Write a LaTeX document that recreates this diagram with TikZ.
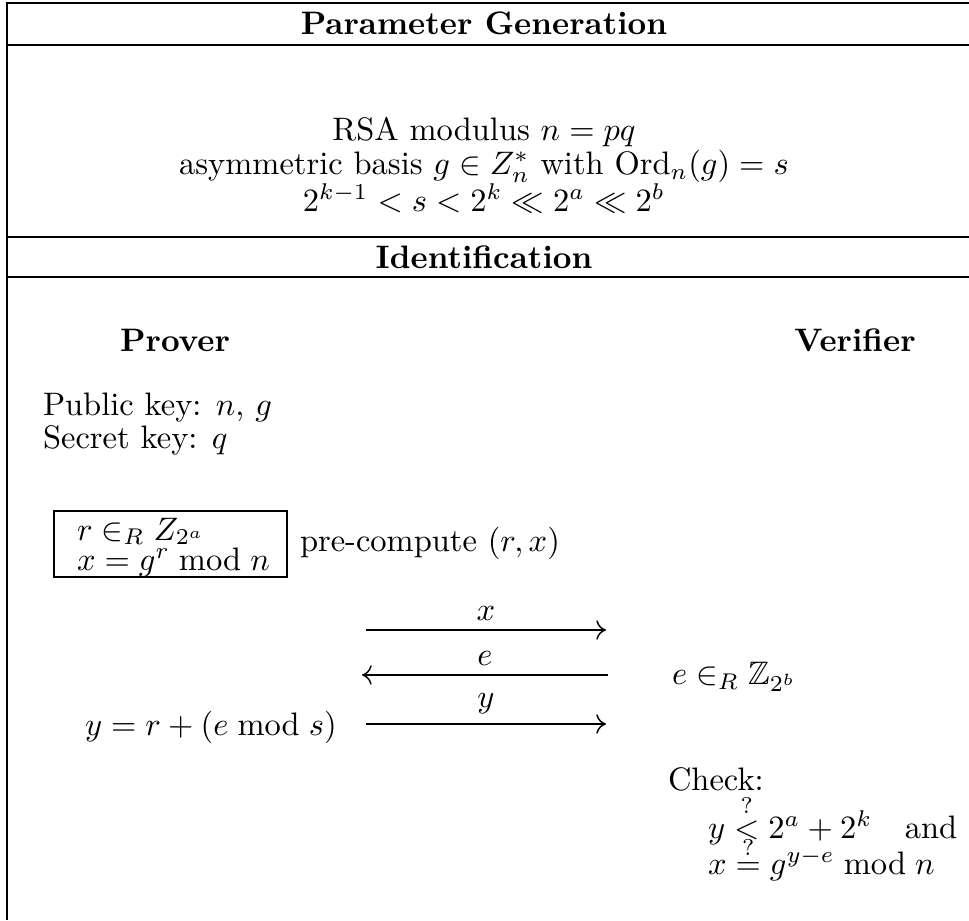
\documentclass[tikz,border=0pt]{standalone}
\usepackage{amsmath,amssymb}
\usetikzlibrary{arrows.meta}
\begin{document}
\begin{tikzpicture}[x=0.3077pt,y=-0.3077pt,
  txt/.style={inner sep=0pt,outer sep=0pt},
  hdr/.style={txt,font=\bfseries},
  rule/.style={line width=0.9pt},
  thinrule/.style={line width=0.5pt},
  msg/.style={line width=0.45pt,-{To[length=3pt,width=6pt]}},
  lbl/.style={txt,above=3pt,midway}]
\useasboundingbox (0,0) rectangle (969,920);
% frame
\draw[rule] (7,2) -- (7,920);
\draw[thinrule] (7,3) -- (969,3);
\draw[rule] (7,45) -- (969,45);
\draw[thinrule] (7,237) -- (969,237);
\draw[rule] (7,277) -- (969,277);
% headers
\node[hdr] (hpg) at (484,23) {Parameter Generation};
\node[hdr] (hid) at (484,257) {Identification};
% parameters
\node[txt] (rsa) at (484,132) {RSA modulus $n=pq$};
\node[txt] (basis) at (484,166) {asymmetric basis $g\in Z_n^*$ with $\mathrm{Ord}_n(g)=s$};
\node[txt] (ineq) at (484,198) {$2^{k-1}<s<2^k\ll 2^a\ll 2^b$};
% parties
\node[hdr] (prover) at (175,340) {Prover};
\node[hdr] (verifier) at (855,340) {Verifier};
\node[txt,anchor=west] (pub) at (43,408) {Public key: $n$, $g$};
\node[txt,anchor=west] (sec) at (43,440) {Secret key: $q$};
% commitment box
\draw[line width=0.8pt] (54,511) rectangle (287,577);
\node[txt,anchor=base west] (br) at (77,540) {$r\in_R Z_{2^a}$};
\node[txt,anchor=base west] (bx) at (77,570) {$x=g^r \bmod n$};
\node[txt,anchor=west] (pre) at (300,543) {pre-compute $(r,x)$};
% messages
\coordinate (m1s) at (366,630); \coordinate (m1e) at (606,630);
\coordinate (m2s) at (608,675); \coordinate (m2e) at (362,675);
\coordinate (m3s) at (366,724); \coordinate (m3e) at (606,724);
\draw[msg] (m1s) -- (m1e) node[lbl] (lx) {$x$};
\draw[msg] (m2s) -- (m2e) node[lbl] (le) {$e$};
\draw[msg] (m3s) -- (m3e) node[lbl] (ly) {$y$};
\node[txt,anchor=west] (resp) at (85,727) {$y=r+(e\bmod s)$};
\node[txt,anchor=west] (chal) at (672,677) {$e\in_R\mathbb{Z}_{2^b}$};
\node[txt,anchor=base west] (check) at (668,790) {Check:};
\node[txt,anchor=base west] (c1) at (708,838) {$y\stackrel{?}{<}2^a+2^k\quad\text{and}$};
\node[txt,anchor=base west] (c2) at (708,874) {$x\stackrel{?}{=}g^{y-e}\bmod n$};
\end{tikzpicture}
\end{document}
